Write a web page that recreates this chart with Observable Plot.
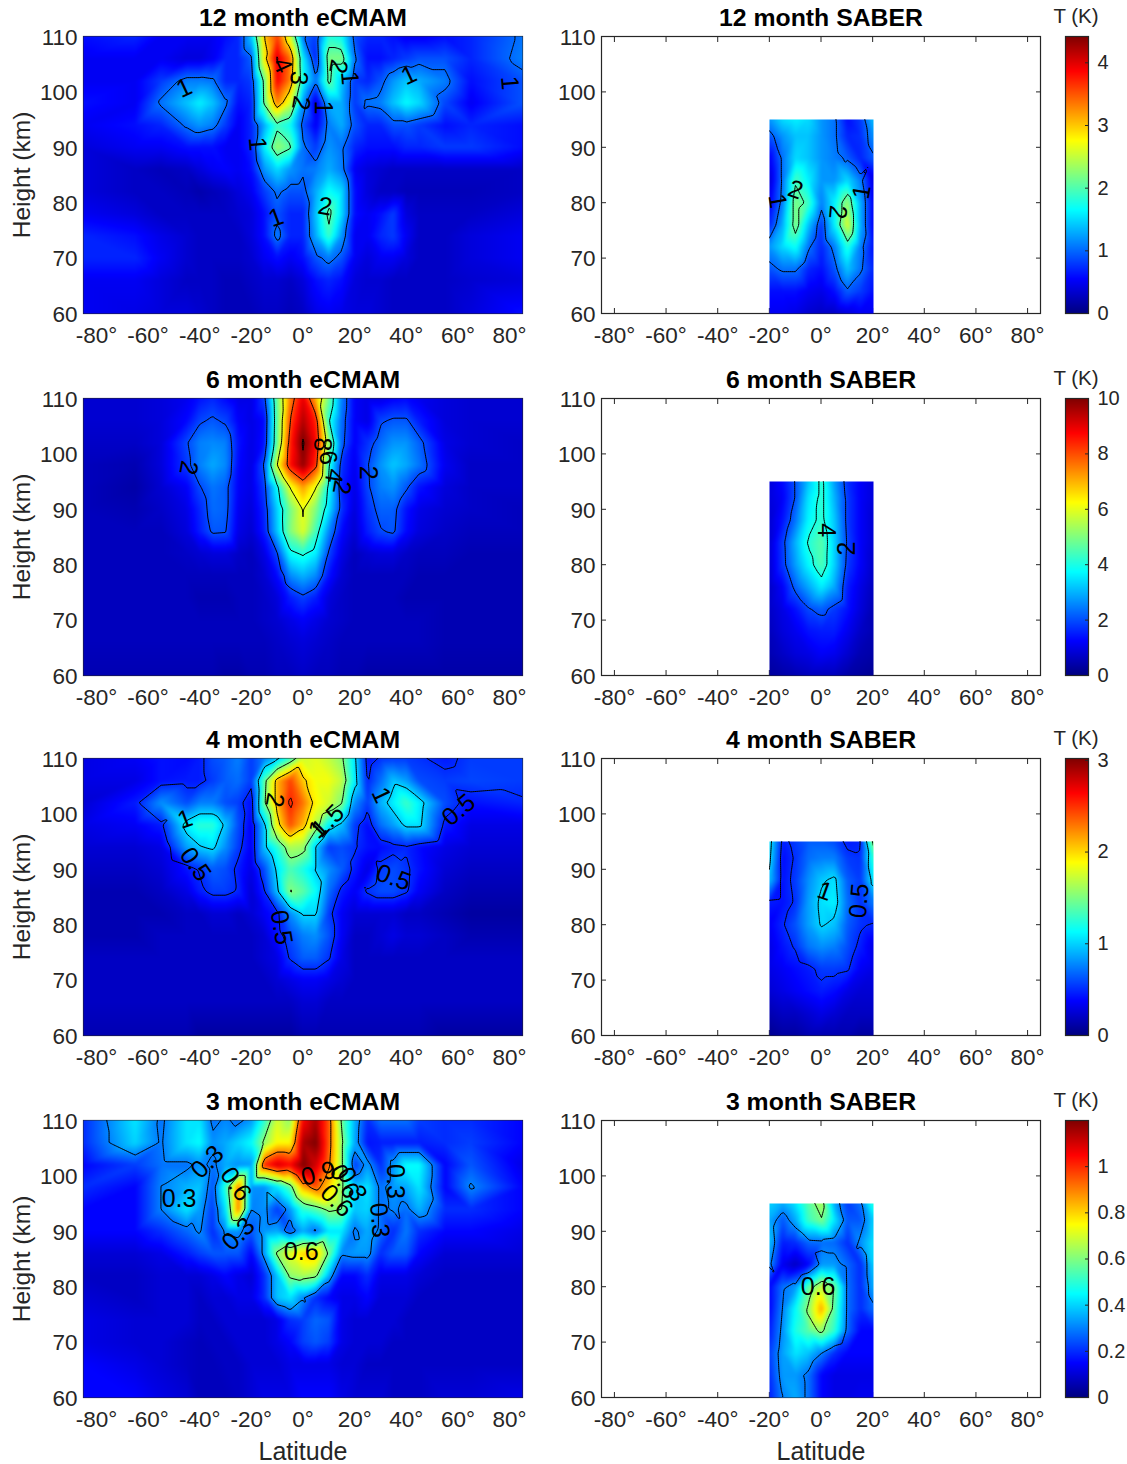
<!DOCTYPE html>
<html><head><meta charset="utf-8">
<script src="https://cdn.jsdelivr.net/npm/d3@7"></script>
<script src="https://cdn.jsdelivr.net/npm/@observablehq/plot@0.6"></script>
<style>html,body{margin:0;background:#fff}#page{position:relative;width:1127px;height:1464px;overflow:hidden}#page svg{position:absolute}</style>
</head><body><div id="page"></div>
<script>
const lats = [-85,-65,-55,-45,-40,-35,-30,-25,-20,-15,-10,-5,0,5,10,15,20,25,30,35,40,45,55,65,85];
const heights = [110,106,102,98,94,90,86,82,78,74,70,66,60];
const saberLats = [-20,-15,-10,-5,0,5,10,15,20];
const saberHeights = [95,92,88,84,80,76,72,68,64,60];
const latTicks = [-80,-60,-40,-20,0,20,40,60,80];
const heightTicks = [60,70,80,90,100,110];

const ecmam12 = [
[.6,.7,.5,.5,.5,.5,.6,.7,1.4,3.0,3.6,2.6,1.05,.8,1.8,1.7,.9,.7,.7,.6,.5,.5,.6,.7,1.05],
[.5,.5,.5,.4,.4,.5,.7,.7,.95,2.8,4.05,3.4,1.6,.7,2.2,2.2,1.05,.6,.6,.7,.8,.9,.9,.7,1.1],
[.5,.5,.8,1.1,1.1,1.05,.7,.7,.8,2.1,3.9,3.3,1.7,1.05,2.1,1.4,.8,.7,.9,1.2,1.4,1.3,1.1,.6,.9],
[.6,.5,1.05,1.4,1.6,1.4,1.05,.6,.7,2.05,3.3,2.6,1.2,.4,1.3,1.3,.8,1.05,1.1,1.4,1.65,1.5,.85,.5,.9],
[.5,.6,.7,1.05,1.2,1.1,.8,.5,.7,1.3,1.9,1.7,.9,.5,1.1,1.3,.9,.7,.7,.9,.9,.8,.6,.7,.6],
[.4,.5,.5,.6,.6,.6,.5,.5,.7,1.6,2.3,2.05,1.05,.8,1.2,1.05,.7,.6,.6,.6,.7,.7,.8,.8,.6],
[.4,.3,.25,.3,.4,.5,.55,.5,.6,1.2,1.5,1.2,1.05,1.1,1.3,1.1,.5,.4,.35,.3,.3,.3,.3,.3,.3],
[.4,.3,.3,.25,.2,.25,.3,.4,.5,.8,1.05,.9,.9,1.3,1.7,1.5,.6,.4,.3,.3,.25,.25,.25,.25,.3],
[.5,.4,.3,.3,.3,.3,.3,.35,.4,.6,.9,.7,.7,1.4,2.1,1.5,.6,.5,.6,.8,.4,.3,.3,.3,.4],
[.7,.6,.45,.35,.3,.3,.3,.3,.4,.6,1.1,.7,.7,1.3,1.9,1.2,.5,.5,.7,.8,.5,.3,.3,.4,.5],
[.7,.7,.5,.35,.3,.3,.3,.3,.35,.5,.6,.5,.6,.9,1.1,.9,.5,.4,.5,.5,.4,.3,.3,.4,.5],
[.5,.5,.4,.3,.3,.3,.25,.25,.3,.35,.35,.3,.4,.6,.7,.6,.4,.35,.35,.3,.3,.3,.3,.35,.4],
[.5,.45,.4,.4,.35,.3,.25,.25,.25,.3,.3,.25,.3,.45,.5,.45,.4,.4,.35,.3,.3,.3,.3,.4,.6]];
const ecmam6 = [
[.8,.8,.9,1.1,1.4,1.6,1.3,1.0,1.0,1.8,4.8,7.5,9.0,7.0,4.8,2.5,1.2,1.0,1.0,1.2,1.3,1.1,.9,.8,.8],
[.8,.8,.9,1.3,1.9,2.1,1.9,1.2,1.0,1.3,4.7,8.0,9.5,8.4,4.1,2.3,1.2,1.0,1.9,2.1,2.1,1.5,.9,.8,.8],
[.7,.7,.9,1.95,2.5,2.6,2.5,1.4,1.0,1.4,4.8,8.4,10.1,8.8,5.2,2.2,1.2,1.7,2.3,2.7,2.7,2.2,1.0,.8,.7],
[.6,.5,.9,1.8,2.5,2.9,2.6,1.3,1.0,2.05,6.0,8.6,9.8,8.3,4.1,1.7,1.1,1.95,2.7,3.2,2.9,2.4,1.1,.7,.7],
[.6,.4,.8,1.2,1.95,2.4,2.2,1.2,1.0,1.8,3.8,6.05,7.2,6.05,3.8,1.5,1.0,1.9,2.5,2.7,2.1,1.4,.9,.7,.7],
[.6,.5,.7,1.0,1.6,2.3,2.2,1.1,.9,1.6,3.3,4.9,6.05,5.0,3.5,1.7,.9,1.7,2.2,2.2,1.4,1.0,.8,.7,.6],
[.6,.6,.6,.9,1.5,2.1,2.05,1.0,.8,1.5,3.2,5.0,5.9,4.4,2.6,1.3,.8,1.5,1.95,2.1,1.3,.9,.7,.6,.6],
[.6,.6,.6,.7,.8,.9,.9,.7,.6,1.0,1.95,3.8,4.1,3.6,1.9,1.0,.6,.8,.9,.9,.7,.6,.6,.5,.5],
[.6,.6,.6,.6,.6,.6,.6,.6,.6,.8,1.3,2.6,3.0,2.6,1.4,.8,.6,.6,.6,.6,.6,.5,.5,.5,.5],
[.6,.6,.6,.6,.5,.5,.5,.6,.6,.7,.9,1.5,1.85,1.5,.9,.7,.6,.6,.6,.6,.5,.5,.5,.5,.5],
[.6,.6,.6,.6,.6,.6,.6,.6,.6,.7,.8,1.0,1.2,1.0,.8,.7,.6,.6,.6,.6,.6,.6,.5,.5,.5],
[.6,.6,.6,.6,.6,.6,.6,.6,.6,.6,.7,.8,.9,.8,.7,.6,.6,.6,.6,.6,.6,.6,.5,.5,.5],
[.5,.5,.5,.5,.5,.5,.4,.4,.5,.5,.6,.6,.7,.6,.6,.5,.5,.4,.4,.4,.4,.4,.4,.4,.4]];
const ecmam4 = [
[.3,.35,.42,.4,.45,.6,.65,.75,.55,.75,.95,1.3,1.75,1.8,1.7,1.55,1.05,.42,.52,.55,.55,.52,.45,.55,.55],
[.3,.3,.42,.45,.45,.55,.65,.7,.55,1.4,2.1,2.45,2.05,1.85,1.85,1.7,1.1,.48,.7,.95,.85,.6,.55,.58,.55],
[.25,.45,.8,.6,.75,.75,.6,.55,.4,1.45,2.1,2.55,2.3,1.9,1.75,1.52,.8,.55,.9,1.1,1.3,1.1,.6,.42,.48],
[.3,.35,.45,1.1,1.25,1.25,.95,.6,.35,.95,1.9,2.4,2.1,1.65,1.1,.95,.55,.4,.7,.85,1.05,1.05,.45,.3,.3],
[.25,.25,.3,.85,.98,1.05,.8,.55,.35,.95,1.25,1.65,1.6,.98,.55,.6,.52,.42,.4,.45,.48,.4,.3,.25,.25],
[.2,.2,.25,.42,.52,.65,.6,.45,.3,.6,1.05,1.35,1.2,.98,.8,.65,.45,.3,.55,.6,.53,.42,.25,.2,.2],
[.15,.15,.2,.3,.45,.55,.55,.48,.25,.48,.95,1.52,1.4,1.15,.7,.45,.35,.52,.6,.6,.52,.35,.2,.15,.15],
[.15,.15,.15,.2,.2,.25,.25,.2,.25,.35,.45,.8,1.02,1.02,.55,.35,.25,.25,.25,.25,.2,.2,.15,.1,.1],
[.15,.15,.2,.2,.2,.2,.2,.2,.2,.25,.42,.6,.75,.8,.62,.35,.2,.2,.25,.3,.25,.25,.2,.15,.15],
[.2,.2,.2,.2,.2,.2,.2,.2,.2,.25,.3,.52,.65,.65,.52,.3,.2,.2,.2,.2,.2,.2,.2,.2,.2],
[.2,.2,.2,.2,.2,.2,.2,.2,.2,.2,.25,.3,.35,.35,.3,.25,.2,.2,.2,.2,.2,.2,.2,.2,.2],
[.2,.2,.2,.2,.2,.2,.2,.2,.2,.2,.2,.2,.25,.25,.2,.2,.2,.2,.2,.2,.2,.2,.2,.2,.2],
[.15,.15,.15,.15,.1,.1,.1,.1,.1,.1,.1,.1,.15,.15,.15,.15,.15,.15,.15,.15,.15,.15,.1,.1,.1]];
const ecmam3 = [
[.2,.42,.28,.42,.42,.28,.31,.28,.33,.5,.7,.62,1.05,1.15,.95,.58,.36,.2,.28,.28,.28,.22,.2,.2,.15],
[.2,.4,.29,.42,.45,.32,.35,.4,.45,.62,.75,.75,1.15,1.2,.95,.62,.35,.17,.18,.18,.18,.18,.2,.22,.15],
[.15,.22,.28,.28,.32,.28,.35,.32,.33,1.0,1.1,1.05,1.2,1.1,.92,.62,.22,.33,.2,.33,.45,.45,.15,.25,.12],
[.2,.15,.3,.36,.38,.25,.5,.9,.32,.32,.42,.55,.85,.95,.8,.62,.38,.42,.28,.33,.35,.42,.15,.31,.15],
[.15,.15,.3,.42,.34,.22,.42,.9,.3,.32,.22,.33,.5,.55,.62,.6,.38,.4,.28,.31,.28,.36,.2,.2,.15],
[.15,.15,.2,.27,.31,.2,.31,.32,.25,.33,.35,.25,.35,.28,.42,.42,.28,.35,.28,.2,.29,.2,.15,.15,.12],
[.1,.1,.12,.18,.22,.25,.25,.25,.15,.33,.62,.72,.8,.82,.58,.31,.33,.33,.2,.25,.25,.15,.1,.1,.1],
[.08,.08,.1,.1,.1,.12,.15,.12,.1,.2,.38,.62,.65,.62,.36,.15,.15,.2,.12,.12,.12,.1,.08,.08,.08],
[.1,.08,.1,.1,.08,.1,.1,.12,.12,.2,.38,.42,.31,.2,.15,.12,.12,.15,.1,.1,.1,.08,.08,.08,.08],
[.12,.1,.1,.1,.08,.08,.1,.1,.1,.1,.12,.2,.22,.27,.25,.12,.1,.1,.1,.1,.08,.08,.08,.08,.08],
[.12,.1,.1,.08,.07,.08,.08,.1,.1,.1,.12,.15,.22,.25,.22,.12,.1,.1,.1,.08,.08,.08,.08,.08,.08],
[.15,.12,.1,.08,.07,.07,.08,.08,.1,.1,.1,.12,.12,.12,.12,.1,.1,.08,.08,.08,.08,.08,.08,.08,.08],
[.15,.15,.12,.1,.07,.07,.07,.08,.1,.12,.12,.12,.15,.15,.15,.12,.1,.1,.1,.08,.08,.08,.1,.1,.12]];

const saber12 = [
[1.2,1.5,1.6,1.5,1.2,1.05,.6,.8,1.4],[.9,1.2,1.4,1.4,1.2,1.05,.7,.75,1.2],[.5,1.05,1.5,1.4,1.2,1.1,.95,.7,.95],
[.35,1.05,1.95,1.6,1.2,1.2,1.5,1.1,.4],[.5,1.1,2.2,1.9,1.1,1.6,2.3,1.3,.5],[.7,1.3,2.2,1.4,.8,1.6,2.6,1.3,.5],
[1.2,1.5,1.7,1.05,.7,1.1,1.8,1.1,.6],[.9,1.05,1.05,.7,.6,.9,1.4,1.05,.7],[.6,.6,.6,.5,.45,.6,.95,.8,.6],[.5,.5,.45,.35,.3,.3,.4,.5,.5]];
const saber6 = [
[.9,1.3,2.05,3.2,4.2,2.8,1.7,1.2,.9],[.9,1.2,2.05,3.5,4.2,3.0,1.8,1.2,.9],[.8,1.4,2.4,3.7,4.2,3.2,1.8,1.2,.8],
[.8,1.8,3.0,4.1,4.6,3.3,1.9,1.2,.8],[.8,1.75,2.8,3.7,4.5,3.3,1.8,1.2,.7],[.7,1.2,2.2,2.9,3.6,2.9,1.5,1.0,.6],
[.7,1.0,1.4,1.95,2.2,1.8,1.4,.9,.5],[.6,.9,1.1,1.4,1.5,1.5,1.1,.7,.5],[.5,.7,.9,1.0,1.2,1.1,.8,.5,.4],[.3,.4,.5,.6,.6,.6,.4,.3,.2]];
const saber4 = [
[1.1,.45,.55,.65,.65,.6,.45,.48,1.6],[1.05,.4,.52,.7,.75,.75,.55,.52,1.3],[.95,.42,.55,.8,.97,1.05,.65,.55,1.1],
[.45,.42,.52,.85,1.05,1.1,.7,.52,.75],[.35,.48,.62,.85,1.02,.95,.65,.52,.48],[.3,.42,.52,.72,.8,.75,.6,.45,.3],
[.3,.35,.4,.45,.55,.55,.52,.35,.3],[.25,.3,.35,.4,.45,.4,.3,.25,.25],[.15,.2,.2,.25,.3,.25,.2,.2,.2],[.05,.1,.1,.15,.15,.15,.15,.1,.1]];
const saber3 = [
[.4,.35,.42,.55,.65,.35,.22,.28,.5],[.35,.25,.35,.52,.59,.42,.25,.25,.4],[.38,.18,.2,.27,.28,.27,.2,.32,.42],
[.32,.13,.08,.15,.33,.33,.27,.2,.4],[.15,.28,.33,.55,.68,.58,.28,.2,.36],[.15,.3,.45,.62,.85,.55,.28,.2,.28],
[.18,.32,.48,.55,.62,.5,.27,.15,.15],[.22,.34,.42,.38,.3,.2,.15,.15,.15],[.2,.33,.33,.28,.15,.12,.12,.12,.12],[.18,.3,.35,.28,.15,.12,.12,.13,.13]];

// contour labels: latitude, height, text, rotation
const labels12e = [[-46,100.7,"1",-25],[-8,104.8,"4",65],[-1.7,102.5,"3",95],[-.8,98,"2",100],[7.6,97.2,"1",90],[13.6,104.6,"2",100],[18,102.5,"1",85],[41,103,"1",-25],[80,101.6,"1",85],[-17.7,90.6,"1",85],[8.5,79.3,"2",10],[-10.4,77.3,"1",-20]];
const labels12s = [[-10,82.3,"2",20],[-17,80.3,"1",80],[15.5,81.9,"1",-80],[6.2,78.3,"2",95]];
const labels6e = [[-44.4,97.5,"2",100],[25.3,96.6,"2",90],[7.3,101.7,"8",90],[9.6,99.3,"6",80],[12,96,"4",100],[15,94,"2",100]];
const labels6s = [[1.7,86.2,"4",90],[9.8,82.9,"2",-90]];
const labels4e = [[-45.7,99,"1",-20],[-41.7,90.9,"0.5",55],[-8.4,79.5,"0.5",80],[-11,102.5,"2",100],[5.6,97.2,"1",-45],[9.6,98.7,"1.5",-45],[30.3,103.4,"1",65],[60.3,100.7,"0.5",-40],[35,88.5,"0.5",20]];
const labels4s = [[1.3,86,"1",20],[14.5,84.3,"0.5",-85]];
const labels3e = [[-37,102.5,"0.3",-45],[-48,95.8,"0.3",0],[-26,98.5,"0.6",55],[-25,89.5,"0.3",-45],[6,100.4,"0.9",-15],[16,99,"0.6",60],[19,98.5,"0.3",60],[13,95.5,"0.6",45],[29.6,92,"0.3",85],[35.6,99,"0.3",90],[-.7,86.2,"0.6",0]];
const labels3s = [[-1.3,79.9,"0.6",0]];

const rows = [
 {top:36, n:"12", max:4.42, ticks:[0,1,2,3,4], e:ecmam12, s:saber12, te:[1,2,3,4], ts:[1,2], le:labels12e, ls:labels12s},
 {top:398,n:"6", max:10, ticks:[0,2,4,6,8,10], e:ecmam6, s:saber6, te:[2,4,6,8,10], ts:[2,4], le:labels6e, ls:labels6s},
 {top:758,n:"4", max:3.02, ticks:[0,1,2,3], e:ecmam4, s:saber4, te:[.5,1,1.5,2,2.5], ts:[.5,1,1.5], le:labels4e, ls:labels4s},
 {top:1120,n:"3", max:1.2, ticks:[0,.2,.4,.6,.8,1], e:ecmam3, s:saber3, te:[.3,.6,.9], ts:[.3,.6], le:labels3e, ls:labels3s}
];

const FONT = "'Liberation Sans', Arial, sans-serif", INK = "#262626";
const FW = 439, FH = 277;
const jetStops = [0,.125,.375,.625,.875,1];
const jetColors = ["#00007f","#0000ff","#00ffff","#ffff00","#ff0000","#7f0000"];
const colorOf = max => ({type:"linear", domain:jetStops.map(t=>t*max), range:jetColors, clamp:true});
const base = {background:"transparent", overflow:"visible", fontFamily:FONT, color:INK};
const page = document.getElementById("page");
function place(svg, left, top){ svg.style.left = left+"px"; svg.style.top = top+"px"; page.appendChild(svg); }
// the grid is repeated once past each edge so the contour lines leave the frame instead of running along it
function toPoints(la, hs, m){
  const la2 = [la[0]-4, ...la, la[la.length-1]+4];
  const hs2 = [hs[0]+4, ...hs, hs[hs.length-1]-4];
  const m2 = [m[0], ...m, m[m.length-1]].map(r=>[r[0], ...r, r[r.length-1]]);
  return m2.flatMap((r,i)=>r.map((v,j)=>({lat:la2[j],h:hs2[i],v:v+.001})));
}

function frameAxes(left, top, title, withY, withX){
  const mb = withX ? 67 : 40;
  const svg = Plot.plot({
    width:83+FW+10, height:36+FH+mb, marginLeft:83, marginRight:10, marginTop:36, marginBottom:mb,
    x:{domain:[-85,85],axis:null}, y:{domain:[60,110],axis:null}, style:base,
    marks:[
      Plot.frame({stroke:INK,strokeWidth:1.2}),
      Plot.axisX(latTicks,{anchor:"bottom",tickSize:-5,tickFormat:()=>"",stroke:INK}),
      Plot.axisX(latTicks,{anchor:"top",tickSize:-5,tickFormat:()=>"",stroke:INK}),
      Plot.axisY(heightTicks,{anchor:"left",tickSize:-5,tickFormat:()=>"",stroke:INK}),
      Plot.axisY(heightTicks,{anchor:"right",tickSize:-5,tickFormat:()=>"",stroke:INK}),
      Plot.axisX(latTicks,{anchor:"bottom",tickSize:0,tickPadding:14,fontSize:22.5,fill:INK,tickFormat:d=>d+"°"}),
      Plot.axisY(heightTicks,{anchor:"left",tickSize:0,tickPadding:6,dy:1,fontSize:22.5,fill:INK}),
      Plot.text([title],{frameAnchor:"top",dy:-18,lineAnchor:"middle",fontSize:24.8,fontWeight:"bold",fill:"#000"}),
      withY ? Plot.text(["Height (km)"],{frameAnchor:"left",textAnchor:"middle",dx:-61,rotate:-90,fontSize:24.5,fill:INK}) : null,
      withX ? Plot.text(["Latitude"],{frameAnchor:"bottom",dy:54,lineAnchor:"middle",fontSize:25,fill:INK}) : null
    ]
  });
  place(svg, left, top-36);
}

function field(left, top, xd, yd, la, hs, m, max, thresholds, labs){
  const pxW = FW/170, pxH = FH/50;
  const x0 = Math.round(left + (xd[0]+85)*pxW), x1 = Math.ceil(left + (xd[1]+85)*pxW);
  const y0 = Math.round(top + (110-yd[1])*pxH), y1 = Math.round(top + (110-yd[0])*pxH);
  const pts = toPoints(la, hs, m);
  const svg = Plot.plot({
    width:x1-x0, height:y1-y0, margin:0,
    x:{domain:xd,axis:null}, y:{domain:yd,axis:null}, color:colorOf(max), style:base,
    marks:[
      Plot.raster(pts,{x:"lat",y:"h",fill:"v",interpolate:"barycentric",blur:1,x1:xd[0],x2:xd[1],y1:yd[0],y2:yd[1]}),
      Plot.contour(pts,{x:"lat",y:"h",value:"v",thresholds,interpolate:"barycentric",fill:"none",stroke:"#000",strokeWidth:1,
        x1:xd[0]-2,x2:xd[1]+2,y1:yd[0]-2,y2:yd[1]+2,clip:"frame"}),
      Plot.text(labs,{x:d=>d[0],y:d=>d[1],text:d=>d[2],rotate:d=>d[3],fontSize:25,fill:"#000"})
    ]
  });
  place(svg, x0, y0);
}

function colorbar(top, max, ticks){
  const svg = Plot.plot({
    width:23+45, height:FH+36+20, marginLeft:0, marginRight:45, marginTop:36, marginBottom:20,
    x:{domain:[0,1],axis:null}, y:{domain:[0,max],axis:null}, color:colorOf(max), style:base,
    marks:[
      Plot.raster({fill:(x,y)=>y,x1:0,x2:1,y1:0,y2:max,pixelSize:1}),
      Plot.frame({stroke:INK,strokeWidth:1.2}),
      Plot.axisY(ticks,{anchor:"right",tickSize:-4,tickFormat:()=>"",stroke:INK}),
      Plot.axisY(ticks,{anchor:"right",tickSize:0,tickPadding:9,fontSize:20,fill:INK,tickFormat:d=>String(d)}),
      Plot.text(["T (K)"],{frameAnchor:"top",dx:-1,dy:-20,lineAnchor:"middle",fontSize:20.5,fill:INK})
    ]
  });
  place(svg, 1065, top-36);
}

rows.forEach((r,i)=>{
  const last = i===rows.length-1;
  frameAxes(0, r.top, r.n+" month eCMAM", true, last);
  frameAxes(518, r.top, r.n+" month SABER", false, last);
  field(83, r.top, [-85,85], [60,110], lats, heights, r.e, r.max, r.te, r.le);
  field(601, r.top, [-20,20], [60,95], saberLats, saberHeights, r.s, r.max, r.ts, r.ls);
  colorbar(r.top, r.max, r.ticks);
});
</script></body></html>
